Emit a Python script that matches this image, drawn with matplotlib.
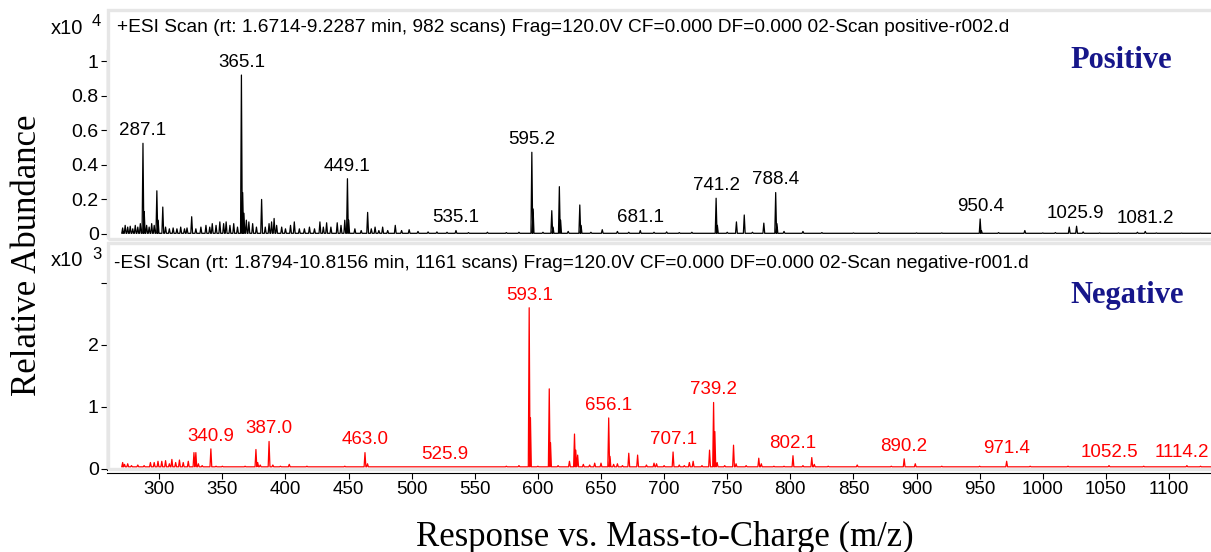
import matplotlib.pyplot as plt
from matplotlib.patches import Rectangle

plt.rcParams['font.family'] = ['Liberation Sans', 'DejaVu Sans']

# positive mode peaks (m/z, intensity in x10^4 counts)
pos_mz = [271, 273, 275, 277, 279, 281, 283, 285, 287.1, 288.1, 290, 292, 294, 296,
          298.1, 299.1, 302.8, 305, 308, 311, 314, 317, 320, 322, 325.7, 329, 333,
          337, 340, 342, 345, 348, 351, 353, 356, 359, 362, 365.1, 366.1, 367.1, 369,
          371, 374, 377, 381.1, 384, 387, 389, 391, 393, 397, 400, 404, 407, 411, 415,
          419, 423, 427.3, 430, 432.6, 436, 441, 444, 447, 449.1, 450.1, 455, 460,
          465.1, 468, 471, 474, 477, 481, 487, 492, 498, 505, 513, 520, 528, 535.1,
          545, 560, 575, 585, 595.2, 596.2, 604, 611, 612, 617, 618, 624, 633.2,
          634.2, 642, 651, 663, 672, 681.1, 692, 702, 712, 722, 741.2, 742.2, 750,
          757.3, 763.5, 770, 779, 788.4, 789.4, 795, 810, 825, 850, 870, 900, 920,
          950.4, 951.4, 965, 985.8, 1000, 1010, 1021, 1026.8, 1032, 1045, 1060,
          1075, 1081.2, 1090, 1110, 1125]
pos_int = [0.035, 0.05, 0.04, 0.045, 0.03, 0.05, 0.04, 0.06, 0.525, 0.13, 0.05, 0.04,
           0.06, 0.05, 0.25, 0.08, 0.156, 0.04, 0.03, 0.035, 0.03, 0.04, 0.03, 0.035,
           0.10, 0.03, 0.04, 0.05, 0.04, 0.06, 0.05, 0.07, 0.06, 0.07, 0.05, 0.06,
           0.04, 0.92, 0.24, 0.12, 0.08, 0.07, 0.06, 0.04, 0.20, 0.04, 0.06, 0.07,
           0.09, 0.05, 0.04, 0.03, 0.05, 0.07, 0.03, 0.03, 0.04, 0.03, 0.07, 0.04,
           0.065, 0.04, 0.065, 0.05, 0.08, 0.32, 0.08, 0.03, 0.02, 0.125, 0.03, 0.04,
           0.02, 0.04, 0.02, 0.05, 0.02, 0.025, 0.015, 0.012, 0.012, 0.01, 0.02,
           0.008, 0.01, 0.008, 0.01, 0.473, 0.145, 0.01, 0.135, 0.04, 0.274, 0.08,
           0.015, 0.168, 0.05, 0.01, 0.025, 0.015, 0.01, 0.02, 0.01, 0.012, 0.008,
           0.01, 0.207, 0.05, 0.01, 0.07, 0.11, 0.01, 0.063, 0.24, 0.06, 0.015,
           0.015, 0.008, 0.006, 0.008, 0.006, 0.006, 0.087, 0.02, 0.008, 0.02,
           0.006, 0.008, 0.04, 0.045, 0.012, 0.006, 0.006, 0.01, 0.015, 0.006,
           0.005, 0.005]
pos_labels = [287.1, 365.1, 449.1, 535.1, 595.2, 681.1, 741.2, 788.4, 950.4, 1025.9, 1081.2]

# negative mode peaks (m/z, intensity in x10^3 counts)
neg_mz = [271, 272.5, 275, 278, 283, 288, 293, 296, 299, 302, 305, 308, 310, 313,
          316, 319, 323, 327.5, 329, 331, 334, 340.9, 345, 350, 355, 360, 368, 376.6,
          378, 380, 387.0, 390, 396, 403, 410, 417, 425, 435, 447, 455, 463.0, 465,
          475, 490, 500, 512, 525.9, 540, 560, 575, 585, 593.1, 594.1, 600, 609,
          610, 616, 625, 629, 630, 631.5, 636, 641, 645, 650, 656.1, 657.1, 660, 663,
          667, 672, 679, 686, 692, 694, 700, 707.1, 712, 716, 720, 723, 730, 736,
          739.2, 740.2, 742, 748, 755, 757, 765, 775, 777, 787, 795, 802.1, 810,
          817, 819, 830, 845, 853, 869, 880, 890.2, 899, 920, 950, 971.4, 990,
          1020, 1052.5, 1080, 1114.2, 1125]
neg_int = [0.1, 0.07, 0.08, 0.05, 0.06, 0.05, 0.1, 0.1, 0.12, 0.12, 0.13, 0.08,
           0.15, 0.1, 0.14, 0.1, 0.12, 0.26, 0.26, 0.08, 0.05, 0.32, 0.04, 0.04,
           0.03, 0.03, 0.04, 0.31, 0.1, 0.06, 0.44, 0.06, 0.04, 0.07, 0.03, 0.04,
           0.03, 0.03, 0.04, 0.03, 0.26, 0.08, 0.03, 0.03, 0.03, 0.03, 0.03, 0.03,
           0.03, 0.04, 0.05, 2.6, 0.82, 0.04, 1.29, 0.42, 0.05, 0.12, 0.56, 0.3,
           0.22, 0.07, 0.06, 0.09, 0.09, 0.82, 0.2, 0.07, 0.08, 0.05, 0.25, 0.22,
           0.06, 0.09, 0.08, 0.05, 0.27, 0.06, 0.05, 0.1, 0.12, 0.05, 0.3, 1.07,
           0.6, 0.1, 0.05, 0.38, 0.08, 0.05, 0.17, 0.08, 0.04, 0.04, 0.21, 0.05,
           0.18, 0.07, 0.04, 0.03, 0.06, 0.03, 0.04, 0.16, 0.08, 0.04, 0.04, 0.12,
           0.04, 0.04, 0.05, 0.04, 0.05, 0.04]
neg_labels = [340.9, 387.0, 463.0, 525.9, 593.1, 656.1, 707.1, 739.2, 802.1, 890.2,
              971.4, 1052.5, 1114.2]

pos_title = "+ESI Scan (rt: 1.6714-9.2287 min, 982 scans) Frag=120.0V CF=0.000 DF=0.000 02-Scan positive-r002.d"
neg_title = "-ESI Scan (rt: 1.8794-10.8156 min, 1161 scans) Frag=120.0V CF=0.000 DF=0.000 02-Scan negative-r001.d"

XLIM = (258.6, 1133.3)
NAVY = "#16168a"
FRAME = "#e6e6e6"


def stick_profile(mz, inten, base):
    # narrow triangular peaks sitting on the baseline
    xs, ys = [XLIM[0] + 12], [base]
    for m, v in sorted(zip(mz, inten)):
        xs += [m - 0.7, m, m + 0.7]
        ys += [base, v, base]
    xs.append(XLIM[1] + 20)
    ys.append(base)
    return xs, ys


def peak_height(mz, inten, target):
    near = [v for m, v in zip(mz, inten) if abs(m - target) < 1.5]
    return max(near) if near else 0.0


def label_peaks(ax, mz, inten, labels, color):
    for m in labels:
        h = peak_height(mz, inten, m)
        if m > XLIM[1] - 25:
            # too close to the right edge: keep the text inside the figure
            ax.annotate(f"{m:.1f}", (XLIM[1], h), xytext=(-1, 3),
                        textcoords="offset points", ha="right", va="bottom",
                        fontsize=13.5, color=color)
        else:
            ax.annotate(f"{m:.1f}", (m, h), xytext=(0, 3),
                        textcoords="offset points", ha="center", va="bottom",
                        fontsize=13.5, color=color)


fig = plt.figure(figsize=(12.11, 5.52), dpi=100)

# light grey panel frames
for y0, y1 in [(10, 239), (243, 469)]:
    fig.patches.append(Rectangle((108 / 1211, 1 - y1 / 552), 1.2, (y1 - y0) / 552,
                                 transform=fig.transFigure, fill=False,
                                 edgecolor=FRAME, lw=2.4, zorder=0))

ax1 = fig.add_axes([107 / 1211, 1 - 236 / 552, 1 - 107 / 1211, (236 - 50) / 552])
ax2 = fig.add_axes([107 / 1211, 1 - 470 / 552, 1 - 107 / 1211, (470 - 283) / 552])

for ax in (ax1, ax2):
    ax.set_facecolor("none")
    ax.set_xlim(*XLIM)
    for s in ("top", "right"):
        ax.spines[s].set_visible(False)
    ax.tick_params(direction="out", length=4, width=0.8, pad=2)
    ax.tick_params(axis="y", labelsize=14)
    ax.tick_params(axis="x", labelsize=13.5)

# positive spectrum
xs, ys = stick_profile(pos_mz, pos_int, 0.004)
ax1.plot(xs, ys, color="black", lw=0.9)
ax1.set_ylim(-0.0116, 1.065)
ax1.set_yticks([0, 0.2, 0.4, 0.6, 0.8, 1.0])
ax1.set_yticklabels(["0", "0.2", "0.4", "0.6", "0.8", "1"])
ax1.spines["bottom"].set_visible(False)
ax1.set_xticks([])
label_peaks(ax1, pos_mz, pos_int, pos_labels, "black")

# negative spectrum
xs, ys = stick_profile(neg_mz, neg_int, 0.03)
ax2.plot(xs, ys, color="#ff0000", lw=0.9)
ax2.set_ylim(-0.021, 3.0)
ax2.set_yticks([0, 1, 2, 3])
ax2.set_yticklabels(["0", "1", "2", ""])
ax2.set_xticks(range(300, 1101, 50))
ax2.spines["bottom"].set_position(("outward", 2.2))
label_peaks(ax2, neg_mz, neg_int, neg_labels, "#ff0000")

# panel headers and multipliers
fig.text(117 / 1211, 1 - 28 / 552, pos_title, fontsize=13.8, va="center", ha="left")
fig.text(114 / 1211, 1 - 263 / 552, neg_title, fontsize=13.8, va="center", ha="left")
fig.text(51 / 1211, 1 - 28 / 552, "x10", fontsize=14.5, va="center", ha="left")
fig.text(92 / 1211, 1 - 22 / 552, "4", fontsize=12, va="center", ha="left")
fig.text(51 / 1211, 1 - 261 / 552, "x10", fontsize=14.5, va="center", ha="left")
fig.text(92 / 1211, 1 - 255 / 552, "3", fontsize=12, va="center", ha="left")

fig.text(1121 / 1211, 1 - 60 / 552, "Positive", fontsize=22, fontweight="bold",
         family="Liberation Serif", color=NAVY, ha="center", va="center")
fig.text(1127 / 1211, 1 - 296 / 552, "Negative", fontsize=22, fontweight="bold",
         family="Liberation Serif", color=NAVY, ha="center", va="center")

fig.text(28 / 1211, 1 - 255 / 552, "Relative Abundance", fontsize=25,
         family="Liberation Serif", rotation=90, ha="center", va="center")
fig.text(665 / 1211, 1 - 546 / 552, "Response vs. Mass-to-Charge (m/z)", fontsize=25,
         family="Liberation Serif", ha="center", va="baseline")

fig.savefig("out.png", dpi=100)
